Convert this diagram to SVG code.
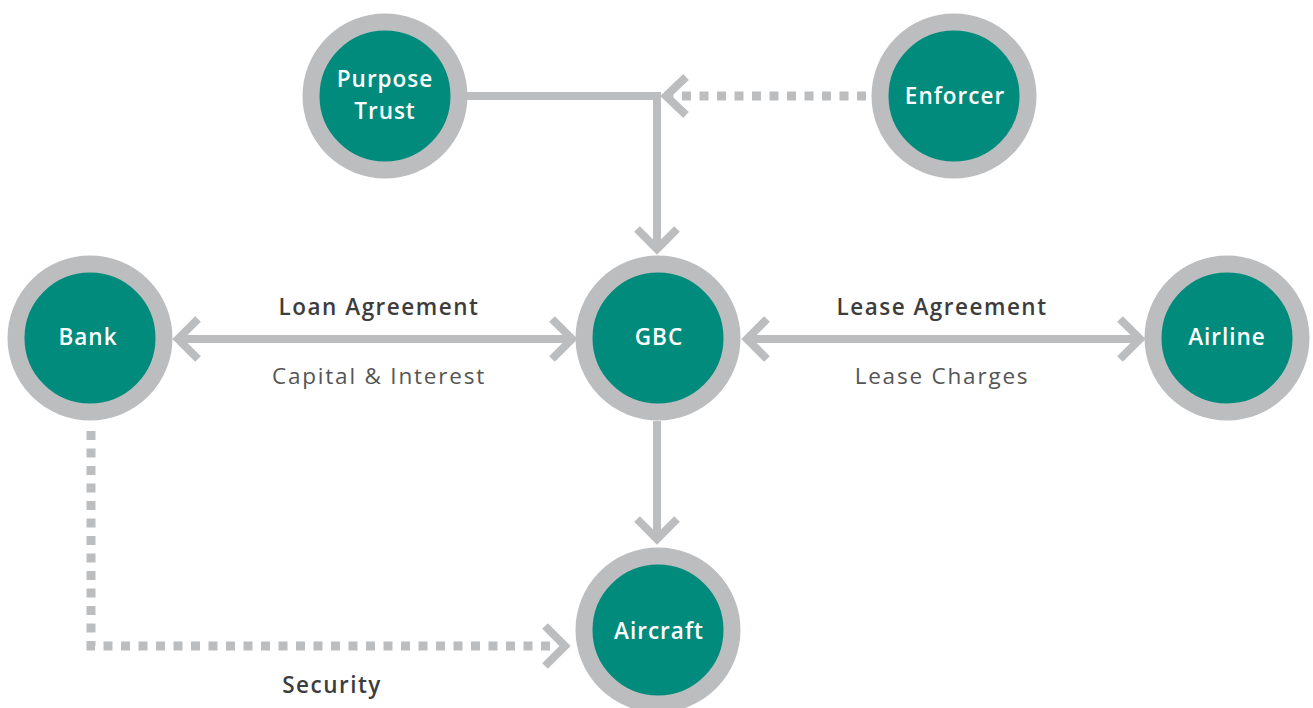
<svg xmlns="http://www.w3.org/2000/svg" width="1313" height="708" viewBox="0 0 1313 708">
  <style>
    .ring { fill: #008b7c; stroke: #bcbdbf; stroke-width: 17; }
    .name { font-family: "Open Sans", "Liberation Sans", sans-serif; font-size: 22.5px; font-weight: 600; letter-spacing: 1px; fill: #ffffff; text-anchor: middle; }
    .line { fill: none; stroke: #bcbdbf; stroke-width: 8; stroke-linejoin: miter; }
    .dots { fill: none; stroke: #bcbdbf; stroke-width: 9; stroke-dasharray: 9 8.5; }
    .head { fill: none; stroke: #bcbdbf; stroke-width: 8; stroke-linejoin: miter; stroke-linecap: butt; }
    .lbl { font-family: "Open Sans", "Liberation Sans", sans-serif; font-size: 22.5px; text-anchor: middle; }
    .strong { font-weight: 600; letter-spacing: 1.5px; fill: #3d3d3d; }
    .soft { font-weight: 400; letter-spacing: 1.8px; fill: #555555; }
  </style>

  <!-- connectors -->
  <g id="connectors">
    <!-- Purpose Trust to GBC -->
    <polyline class="line" points="466,96 657,96 657,248"/>
    <polyline class="head" points="637,229 657,249 677,229"/>
    <!-- Enforcer (dotted) -->
    <line class="dots" x1="866" y1="96" x2="672" y2="96"/>
    <polyline class="head" points="686,77 666,96 686,115"/>
    <!-- Bank <-> GBC -->
    <line class="line" x1="178" y1="339" x2="572" y2="339"/>
    <polyline class="head" points="198,319 178,339 198,359"/>
    <polyline class="head" points="552,319 572,339 552,359"/>
    <!-- GBC <-> Airline -->
    <line class="line" x1="747" y1="339" x2="1140" y2="339"/>
    <polyline class="head" points="767,319 747,339 767,359"/>
    <polyline class="head" points="1120,319 1140,339 1120,359"/>
    <!-- GBC to Aircraft -->
    <line class="line" x1="657" y1="421" x2="657" y2="539"/>
    <polyline class="head" points="637,519 657,539 677,519"/>
    <!-- Bank to Aircraft (dotted) -->
    <polyline class="dots" points="91,431 91,646 556,646"/>
    <polyline class="head" points="545,626 565,646 545,666"/>
  </g>

  <!-- connector labels -->
  <g id="labels">
    <text class="lbl strong" x="379" y="315">Loan Agreement</text>
    <text class="lbl soft" x="379" y="384">Capital &amp; Interest</text>
    <text class="lbl strong" x="942" y="315">Lease Agreement</text>
    <text class="lbl soft" x="942" y="384">Lease Charges</text>
    <text class="lbl strong" x="332" y="693">Security</text>
  </g>

  <g id="purpose-trust">
    <circle class="ring" cx="385" cy="96" r="74"/>
    <text class="name" x="385" y="87">Purpose</text>
    <text class="name" x="385" y="119">Trust</text>
  </g>

  <g id="enforcer">
    <circle class="ring" cx="954" cy="96" r="74"/>
    <text class="name" x="955" y="104">Enforcer</text>
  </g>

  <g id="bank">
    <circle class="ring" cx="90" cy="338" r="74"/>
    <text class="name" x="88" y="345">Bank</text>
  </g>

  <g id="gbc">
    <circle class="ring" cx="658" cy="338" r="74"/>
    <text class="name" x="659" y="345">GBC</text>
  </g>

  <g id="airline">
    <circle class="ring" cx="1227" cy="338" r="74"/>
    <text class="name" x="1227" y="345">Airline</text>
  </g>

  <g id="aircraft">
    <circle class="ring" cx="658" cy="630" r="74"/>
    <text class="name" x="659" y="639">Aircraft</text>
  </g>
</svg>
